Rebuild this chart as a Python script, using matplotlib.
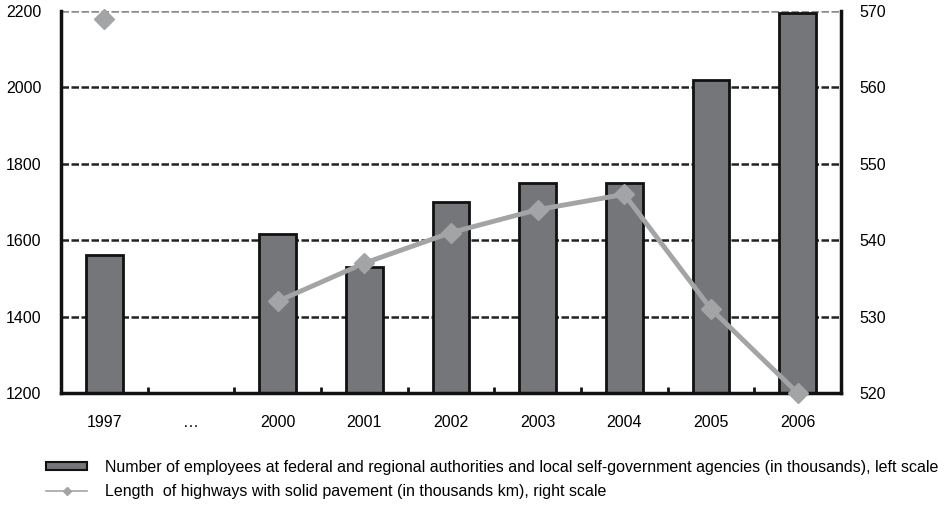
import numpy as np
import matplotlib
matplotlib.use("Agg")
import matplotlib.pyplot as plt
from matplotlib.patches import Patch
from matplotlib.lines import Line2D

plt.rcParams['font.family'] = ['Liberation Sans', 'DejaVu Sans']

categories = ["1997", "…", "2000", "2001", "2002", "2003", "2004", "2005", "2006"]
employees = [1560, np.nan, 1615, 1530, 1700, 1750, 1750, 2020, 2195]
highways = [569, np.nan, 532, 537, 541, 544, 546, 531, 520]

bar_label = ("Number of employees at federal and regional authorities and local "
             "self-government agencies (in thousands), left scale")
line_label = "Length  of highways with solid pavement (in thousands km), right scale"

fig = plt.figure(figsize=(9.53, 5.05), dpi=100)
ax = fig.add_axes([61 / 953, 1 - 393 / 505, 780 / 953, 382 / 505])
x = np.arange(len(categories))

ax.set_xlim(-0.5, len(categories) - 0.5)
ax.set_ylim(1200, 2200)
ax.set_yticks([1200, 1400, 1600, 1800, 2000, 2200])
for v in [1400, 1600, 1800, 2000]:
    ax.axhline(v, color="#222222", lw=1.8, ls=(0, (3, 1)), zorder=1)
ax.axhline(2200, color="#8a8a8a", lw=1.8, ls=(0, (3, 1)), zorder=1)

ax.bar(x, employees, width=0.42, bottom=0, color="#75767a", edgecolor="#111111",
       linewidth=2, zorder=2)

ax.set_xticks(x)
ax.set_xticklabels(categories)
ax.set_xticks(x[:-1] + 0.5, minor=True)
ax.tick_params(axis="x", which="major", length=0, pad=16, labelsize=11.5)
ax.tick_params(axis="x", which="minor", length=4, width=2, direction="in", color="#111111")
ax.tick_params(axis="y", length=0, pad=14, labelsize=11.5)

for side in ["left", "bottom", "right"]:
    ax.spines[side].set_linewidth(2.5)
    ax.spines[side].set_color("#111111")
ax.spines["top"].set_visible(False)

ax2 = ax.twinx()
ax2.set_ylim(520, 570)
ax2.set_yticks([520, 530, 540, 550, 560, 570])
ax2.tick_params(axis="y", length=0, pad=13, labelsize=11.5)
for side in ["left", "bottom", "right", "top"]:
    ax2.spines[side].set_visible(False)
ax2.plot(x, highways, color="#a3a4a6", lw=3.5, marker="D", markersize=10,
         markerfacecolor="#a3a4a6", markeredgecolor="#a3a4a6", zorder=3, clip_on=False)

handles = [Patch(facecolor="#75767a", edgecolor="#111111", linewidth=1.5),
           Line2D([0], [0], color="#a3a4a6", lw=1.2, marker="D", markersize=4)]
fig.legend(handles, [bar_label, line_label], loc="upper left",
           bbox_to_anchor=(41 / 953, 1 - 455 / 505), frameon=False, fontsize=11.5,
           handlelength=2.6, handleheight=0.45, handletextpad=1.1, labelspacing=0.6,
           borderaxespad=0, borderpad=0.3)

fig.savefig("out.png", dpi=100)
